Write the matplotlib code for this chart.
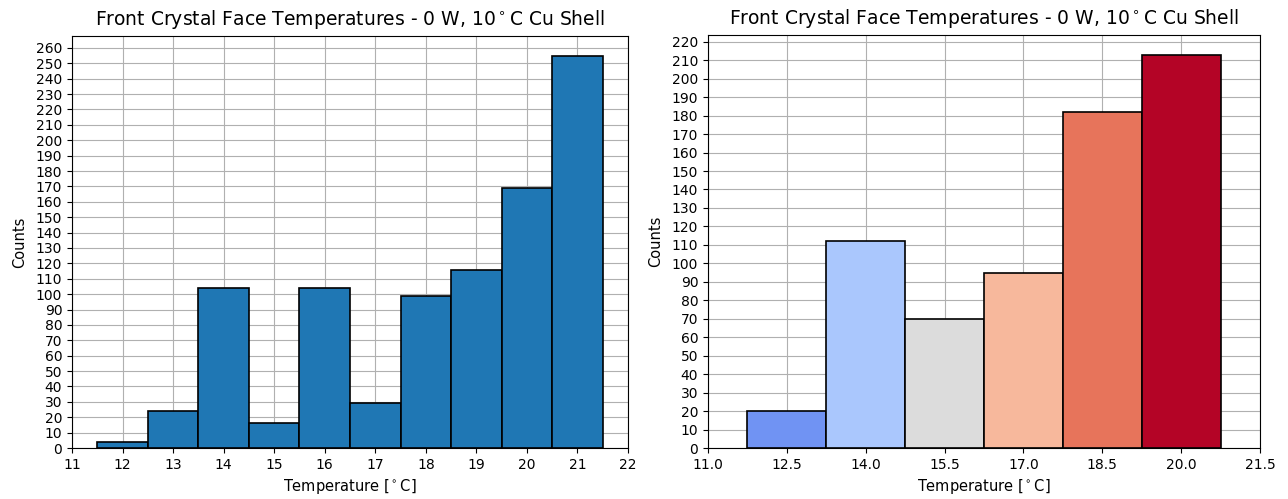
import matplotlib
matplotlib.use('Agg')
import matplotlib.pyplot as plt
import numpy as np

# left histogram: 1 degC bins
left_edges = [11.5, 12.5, 13.5, 14.5, 15.5, 16.5, 17.5, 18.5, 19.5, 20.5, 21.5]
left_counts = [4, 24, 104, 16, 104, 29, 99, 116, 169, 255]

# right histogram: 1.5 degC bins
right_edges = [11.75, 13.25, 14.75, 16.25, 17.75, 19.25, 20.75]
right_counts = [20, 112, 70, 95, 182, 213]
right_colors = ['#7093f3', '#aac7fd', '#dcdcdc', '#f7b89c', '#e7745b', '#b40426']

title = r'Front Crystal Face Temperatures - 0 W, 10$^\circ$C Cu Shell'
xlabel = r'Temperature [$^\circ$C]'

fig = plt.figure(figsize=(12.88, 4.99), dpi=100)
ax1 = fig.add_axes([72/1288, 1-448/499, (628-72)/1288, (448-36)/499])
ax2 = fig.add_axes([708/1288, 1-448/499, (1260-708)/1288, (448-35)/499])

# left
lw = np.diff(left_edges)
ax1.bar(left_edges[:-1], left_counts, width=lw, align='edge',
        color='#1f77b4', edgecolor='black', linewidth=1.2)
ax1.set_xlim(11, 22)
ax1.set_xticks(np.arange(11, 23, 1))
ax1.set_ylim(0, max(left_counts) * 1.05)
ax1.set_yticks(np.arange(0, 261, 10))

# right
rw = np.diff(right_edges)
ax2.bar(right_edges[:-1], right_counts, width=rw, align='edge',
        color=right_colors, edgecolor='black', linewidth=1.2)
ax2.set_xlim(11, 21.5)
ax2.set_xticks(np.arange(11, 21.6, 1.5))
ax2.set_xticklabels(['%.1f' % t for t in np.arange(11, 21.6, 1.5)])
ax2.set_ylim(0, max(right_counts) * 1.05)
ax2.set_yticks(np.arange(0, 221, 10))

for ax in (ax1, ax2):
    ax.set_axisbelow(True)
    ax.grid(True, color='#b0b0b0', linewidth=0.8)
    ax.set_title(title, fontsize=13.5, pad=8)
    ax.set_xlabel(xlabel, fontsize=10.5)
    ax.set_ylabel('Counts', fontsize=10.5, labelpad=6)
    ax.tick_params(labelsize=10)

fig.savefig('out.png', dpi=100)
